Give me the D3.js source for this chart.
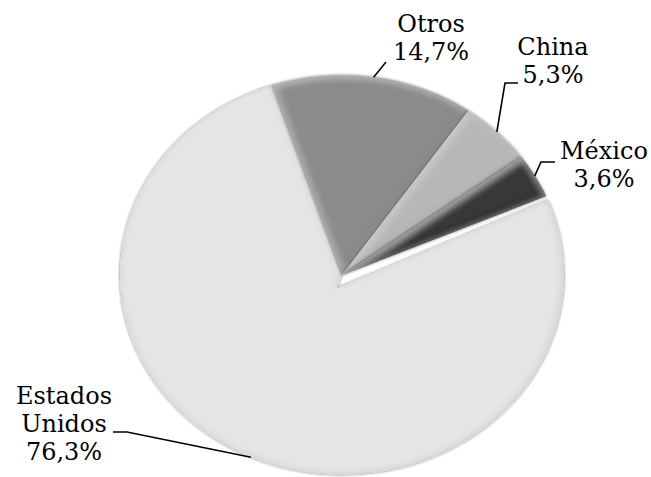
<!DOCTYPE html>
<html>
<head>
<meta charset="utf-8">
<script src="https://cdn.jsdelivr.net/npm/d3@7"></script>
<style>
  body { margin: 0; background: #fff; }
  svg text { font-family: "DejaVu Serif", serif; font-size: 24px; fill: #000; }
</style>
</head>
<body>
<div id="chart"></div>
<script>
// pie values, in the clockwise order they are drawn (starting near 12 o'clock)
var categories = ["Otros", "China", "México", "Estados Unidos"];
var shares = [14.7, 5.3, 3.6, 76.3];
var valueLabels = ["14,7%", "5,3%", "3,6%", "76,3%"];
var nameLines = [["Otros"], ["China"], ["México"], ["Estados", "Unidos"]];
var fills = ["#8b8b8b", "#b7b7b7", "#383838", "#e5e5e5"];

var width = 651, height = 477;
var cx = 342, cy = 275;       // pie centre
var R = 222, squash = 0.9;    // the pie is a slightly flattened ellipse
var explode = [-5.3, 14.8];   // apex shift of the pulled-out slice (unsquashed units)
var gapAngle = 1.2 * Math.PI / 180; // small visible gap where the slice was pulled out

// label blocks: text centre, first baseline, and the leader line route
var labelLayout = {
  "Otros":          { x: 431, y: 32,  leader: [[386, 62]] },
  "China":          { x: 553, y: 55,  leader: [[505, 83], [518, 83]] },
  "México":         { x: 604, y: 159, leader: [[541, 162], [555, 162]] },
  "Estados Unidos": { x: 64,  y: 404, leader: [[127, 432], [113, 432]] }
};
var lineGap = 28;

var svg = d3.select("#chart").append("svg")
    .attr("width", width)
    .attr("height", height);

// soft bevel + shadow, roughly like the office chart effect
var defs = svg.append("defs");
var f = defs.append("filter").attr("id", "bevel")
    .attr("x", "-10%").attr("y", "-10%").attr("width", "120%").attr("height", "120%");
f.append("feGaussianBlur").attr("in", "SourceAlpha").attr("stdDeviation", 4).attr("result", "blur");
f.append("feComposite").attr("in", "SourceAlpha").attr("in2", "blur")
    .attr("operator", "arithmetic").attr("k2", 1).attr("k3", -1).attr("result", "edge");
f.append("feFlood").attr("flood-color", "#000").attr("flood-opacity", 0.35);
f.append("feComposite").attr("in2", "edge").attr("operator", "in").attr("result", "edgeDark");
f.append("feOffset").attr("in", "blur").attr("dx", 2).attr("dy", 2).attr("result", "blurOff");
f.append("feComposite").attr("in", "SourceAlpha").attr("in2", "blurOff")
    .attr("operator", "arithmetic").attr("k2", 1).attr("k3", -1).attr("result", "hiEdge");
f.append("feFlood").attr("flood-color", "#fff").attr("flood-opacity", 0.5);
f.append("feComposite").attr("in2", "hiEdge").attr("operator", "in").attr("result", "edgeLight");
f.append("feGaussianBlur").attr("in", "SourceAlpha").attr("stdDeviation", 1.8).attr("result", "sh");
f.append("feFlood").attr("flood-color", "#000").attr("flood-opacity", 0.6);
f.append("feComposite").attr("in2", "sh").attr("operator", "in").attr("result", "shadow");
var m = f.append("feMerge");
m.append("feMergeNode").attr("in", "shadow");
m.append("feMergeNode").attr("in", "SourceGraphic");
m.append("feMergeNode").attr("in", "edgeLight");
m.append("feMergeNode").attr("in", "edgeDark");

var data = categories.map(function(c, i) {
  return { category: c, value: shares[i], label: valueLabels[i], lines: nameLines[i], color: fills[i] };
});

var pie = d3.pie()
    .sort(null)
    .startAngle(-18.3 * Math.PI / 180)
    .endAngle(-18.3 * Math.PI / 180 + 2 * Math.PI)
    .value(function(d) { return d.value; });

var arcs = pie(data);

var arc = d3.arc().innerRadius(0).outerRadius(R);

// path for the pulled-out slice: same rim, shifted apex.
// it runs back through the centre so it tucks under the neighbouring slice
function explodedPath(d) {
  var p = d3.path();
  p.moveTo(explode[0], explode[1]);
  p.arc(0, 0, R, d.startAngle + gapAngle - Math.PI / 2, d.endAngle - Math.PI / 2);
  p.lineTo(0, 0);
  p.closePath();
  return p.toString();
}

var g = svg.append("g")
    .attr("transform", "translate(" + cx + "," + cy + ") scale(1," + squash + ")");

// draw the big slice first so the others sit on top of it
var order = arcs.slice().sort(function(a, b) { return b.value - a.value; });

g.selectAll("path.slice")
    .data(order)
    .enter().append("path")
    .attr("class", "slice")
    .attr("d", function(d) { return d.data.category === "Estados Unidos" ? explodedPath(d) : arc(d); })
    .attr("fill", function(d) { return d.data.color; })
    .attr("filter", "url(#bevel)");

function midAngle(d) {
  return d.startAngle + (d.endAngle - d.startAngle) / 2;
}

// point on the rim, in page coordinates
function rimPoint(d) {
  var a = midAngle(d);
  return [cx + R * Math.sin(a), cy - R * squash * Math.cos(a)];
}

var labels = svg.append("g");

arcs.forEach(function(d) {
  var lay = labelLayout[d.data.category];
  var pts = [rimPoint(d)].concat(lay.leader);
  labels.append("polyline")
      .attr("points", pts.map(function(p) { return p.join(","); }).join(" "))
      .attr("fill", "none")
      .attr("stroke", "#000")
      .attr("stroke-width", 1.6);

  var t = labels.append("text").attr("text-anchor", "middle");
  var all = d.data.lines.concat([d.data.label]);
  all.forEach(function(s, i) {
    t.append("tspan")
        .attr("x", lay.x)
        .attr("y", lay.y + i * lineGap)
        .text(s);
  });
});
</script>
</body>
</html>
